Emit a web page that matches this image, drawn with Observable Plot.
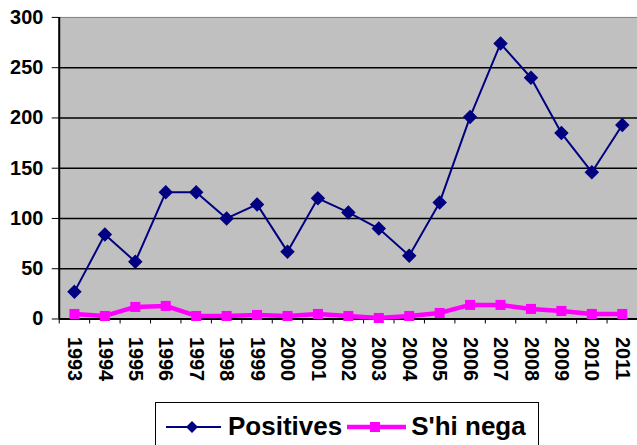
<!DOCTYPE html>
<html><head><meta charset="utf-8">
<script src="https://cdn.jsdelivr.net/npm/d3@7"></script>
<script src="https://cdn.jsdelivr.net/npm/@observablehq/plot@0.6"></script>
<style>
body{margin:0;background:#fff;overflow:hidden;font-family:"Liberation Sans",Arial,sans-serif;width:637px;height:445px;position:relative}
#legend{position:absolute;left:155px;top:402px;width:384px;height:52px;border:1.5px solid #000;box-sizing:border-box;display:flex;align-items:flex-start;padding-left:10px;padding-top:7px;font-size:26px;font-weight:bold;color:#000;white-space:nowrap}
#legend svg{display:block;margin-top:9px}
#legend span{line-height:32px}
</style></head><body>
<div id="chart"></div>
<div id="legend">
  <svg width="56" height="16"><line x1="0" x2="55" y1="8" y2="8" stroke="#000080" stroke-width="2"/><path d="M26,2 L32,8 L26,14 L20,8Z" fill="#000080"/></svg>
  <span style="margin-left:6px">Positives</span>
  <svg width="60" height="16" style="margin-left:5px"><line x1="0" x2="59" y1="8" y2="8" stroke="#ff00ff" stroke-width="4.5"/><rect x="23" y="3" width="10" height="10" fill="#ff00ff"/></svg>
  <span style="margin-left:4px">S'hi nega</span>
</div>
<script>
const years = ["1993","1994","1995","1996","1997","1998","1999","2000","2001","2002","2003","2004","2005","2006","2007","2008","2009","2010","2011"];
const positives = [27,84,57,126,126,100,114,67,120,106,90,63,116,201,274,240,185,146,193];
const shiNega = [5,3,12,13,3,3,4,3,5,3,1,3,6,14,14,10,8,5,5];
const yTicks = [0,50,100,150,200,250,300];

const data = years.map((year, i) => ({i, year, positives: positives[i], shiNega: shiNega[i]}));
const boundaries = d3.range(years.length + 1).map(k => k - 0.5);

const chart = Plot.plot({
  width: 640, height: 395,
  marginTop: 17, marginLeft: 59, marginRight: 0, marginBottom: 75,
  style: {fontFamily: "'Liberation Sans', Arial, sans-serif", fontSize: "20px", fontWeight: "bold", color: "#000", background: "transparent"},
  x: {domain: [-0.5, years.length - 0.5]},
  y: {domain: [0, 300]},
  marks: [
    Plot.frame({fill: "#c0c0c0", stroke: "#808080"}),
    Plot.gridY({ticks: yTicks.slice(1, -1), stroke: "#000", strokeOpacity: 1, strokeWidth: 1.5}),
    Plot.axisY({ticks: yTicks, tickSize: 7, tickPadding: 9, label: null}),
    Plot.axisX({ticks: boundaries, tickSize: 5, tickFormat: () => "", label: null}),
    Plot.axisX({ticks: d3.range(years.length), tickFormat: i => years[i], tickSize: 0, tickPadding: 18, tickRotate: 90, label: null}),
    Plot.ruleX([-0.5], {stroke: "#000", strokeWidth: 2}),
    Plot.ruleY([0], {stroke: "#000", strokeWidth: 2}),
    Plot.line(data, {x: "i", y: "shiNega", stroke: "#ff00ff", strokeWidth: 4.5}),
    Plot.dot(data, {x: "i", y: "shiNega", symbol: "square", r: 5.7, fill: "#ff00ff", stroke: "none"}),
    Plot.line(data, {x: "i", y: "positives", stroke: "#000080", strokeWidth: 2}),
    Plot.dot(data, {x: "i", y: "positives", symbol: "diamond2", r: 5.6, fill: "#000080", stroke: "#000080"})
  ]
});
document.getElementById("chart").append(chart);
</script>
</body></html>
